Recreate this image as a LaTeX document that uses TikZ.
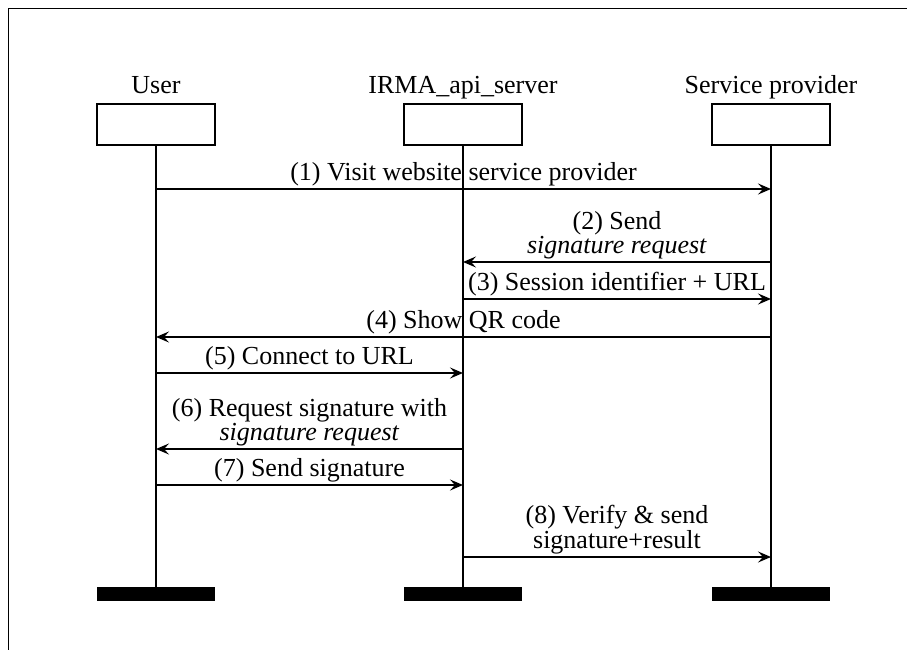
\documentclass[tikz,border=0pt]{standalone}
\usepackage{fontspec}
\setmainfont{Liberation Serif}
\usetikzlibrary{arrows.meta}
\begin{document}
\begin{tikzpicture}[x=1pt,y=-1pt,
  every node/.style={font=\fontsize{26}{22}\selectfont},
  hdr/.style={draw, line width=1.6pt, minimum width=118pt, minimum height=41pt, inner sep=0pt},
  bar/.style={fill=black, minimum width=118pt, minimum height=14pt, inner sep=0pt},
  life/.style={line width=1.6pt},
  msg/.style={line width=1.6pt, -{Stealth[length=13pt,width=11pt,inset=5pt]}},
  lbl/.style={anchor=south, align=center, inner sep=2pt},
  ttl/.style={anchor=base, inner sep=0pt},
  frame/.style={line width=1.5pt}
]
\useasboundingbox (0,0) rectangle (907,650);
\coordinate (fbl) at (8.5,660);
\coordinate (ftl) at (8.5,8.5);
\coordinate (ftr) at (920,8.5);
\draw[frame] (fbl) -- (ftl) -- (ftr);

% headers
\node[hdr] (ubox) at (156,124.5) {};
\node[hdr] (ibox) at (463,124.5) {};
\node[hdr] (sbox) at (771,124.5) {};
\node[ttl] (ulbl) at (156,94) {User};
\node[ttl] (ilbl) at (463,94) {IRMA\_api\_server};
\node[ttl] (slbl) at (771,94) {Service provider};

% bars
\node[bar] (ubar) at (156,594) {};
\node[bar] (ibar) at (463,594) {};
\node[bar] (sbar) at (771,594) {};

% lifelines
\draw[life] (ubox) -- (ubar);
\draw[life] (ibox) -- (ibar);
\draw[life] (sbox) -- (sbar);

% message anchors
\coordinate (u1) at (156,189); \coordinate (s1) at (771,189);
\coordinate (s2) at (771,262); \coordinate (i2) at (463,262);
\coordinate (i3) at (463,299); \coordinate (s3) at (771,299);
\coordinate (s4) at (771,337); \coordinate (u4) at (156,337);
\coordinate (u5) at (156,373); \coordinate (i5) at (463,373);
\coordinate (i6) at (463,449); \coordinate (u6) at (156,449);
\coordinate (u7) at (156,485); \coordinate (i7) at (463,485);
\coordinate (i8) at (463,557); \coordinate (s8) at (771,557);

\draw[msg] (u1) -- (s1) node[lbl, midway] (l1) {(1) Visit website service provider};
\draw[msg] (s2) -- (i2) node[lbl, midway] (l2) {(2) Send\\\textit{signature request}};
\draw[msg] (i3) -- (s3) node[lbl, midway] (l3) {(3) Session identifier + URL};
\draw[msg] (s4) -- (u4) node[lbl, midway] (l4) {(4) Show QR code};
\draw[msg] (u5) -- (i5) node[lbl, midway] (l5) {(5) Connect to URL};
\draw[msg] (i6) -- (u6) node[lbl, midway] (l6) {(6) Request signature with\\\textit{signature request}};
\draw[msg] (u7) -- (i7) node[lbl, midway] (l7) {(7) Send signature};
\draw[msg] (i8) -- (s8) node[lbl, midway] (l8) {(8) Verify \& send\\signature+result};
\end{tikzpicture}
\end{document}
